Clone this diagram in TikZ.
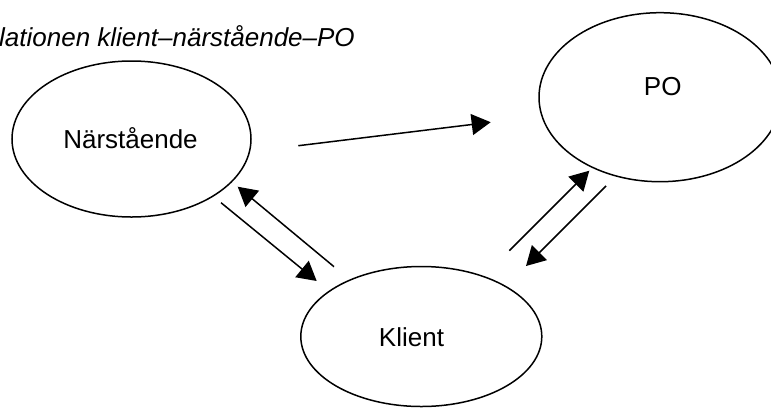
\documentclass[tikz,border=0pt]{standalone}
\usepackage{fontspec}
\setmainfont{Liberation Sans}
\usetikzlibrary{shapes.geometric,arrows.meta}

\begin{document}
\begin{tikzpicture}[x=1pt,y=-1pt,
  party/.style={ellipse,draw,line width=1.5pt,inner sep=0pt},
  partytext/.style={inner sep=0pt,font=\fontsize{26}{30}\selectfont},
  link/.style={line width=1.5pt,-{Triangle[length=19pt,width=21pt]}}]
  \useasboundingbox (0,0) rectangle (771,408);

  % heading (starts beyond the left edge)
  \node[anchor=base west,inner sep=0pt,font=\fontsize{26}{30}\selectfont\itshape]
    (title) at (-1,46) {lationen klient–närstående–PO};

  % the three parties
  \node[party,minimum width=239pt,minimum height=156pt] (nar) at (131.5,139) {};
  \node[party,minimum width=242pt,minimum height=169pt] (po) at (660,97.2) {};
  \node[party,minimum width=241pt,minimum height=140pt] (kli) at (421.3,336.5) {};

  \node[partytext] (nar-text) at (130.5,138) {Närstående};
  \node[partytext] (po-text) at (662.7,87) {PO};
  \node[partytext] (kli-text) at (411.5,336.7) {Klient};

  % free arrow ends between the ellipses
  \coordinate (n2p-s) at (298.3,145.7);
  \coordinate (n2p-e) at (490.7,122.2);
  \coordinate (n2k-s) at (221,202.7);
  \coordinate (n2k-e) at (316.7,281);
  \coordinate (k2n-s) at (334,266.7);
  \coordinate (k2n-e) at (237.7,186.7);
  \coordinate (k2p-s) at (509.3,250.7);
  \coordinate (k2p-e) at (589.3,170.7);
  \coordinate (p2k-s) at (606,186);
  \coordinate (p2k-e) at (526,266);

  \draw[link] (n2p-s) -- (n2p-e);
  \draw[link] (n2k-s) -- (n2k-e);
  \draw[link] (k2n-s) -- (k2n-e);
  \draw[link] (k2p-s) -- (k2p-e);
  \draw[link] (p2k-s) -- (p2k-e);
\end{tikzpicture}
\end{document}
